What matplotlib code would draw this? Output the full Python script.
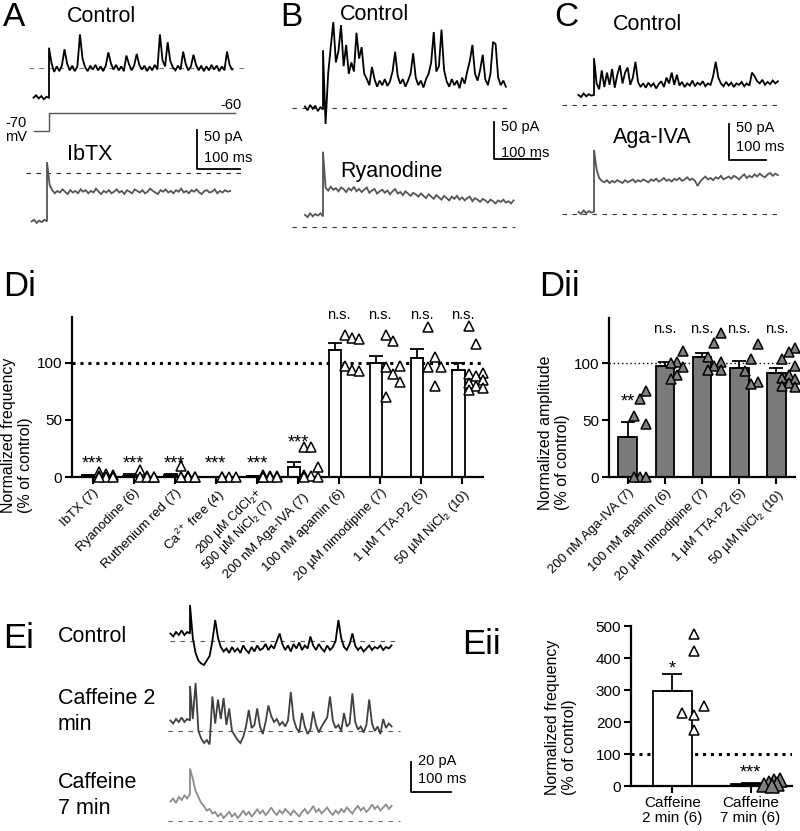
import numpy as np
import matplotlib
matplotlib.use("Agg")
import matplotlib.pyplot as plt
import matplotlib.transforms as mtransforms

plt.rcParams['font.family'] = ['Liberation Sans', 'DejaVu Sans']
plt.rcParams['mathtext.fontset'] = 'custom'
plt.rcParams['mathtext.rm'] = 'Liberation Sans'
plt.rcParams['mathtext.it'] = 'Liberation Sans:italic'
plt.rcParams['mathtext.default'] = 'regular'

W, H = 800, 831

# ---------------- data: summary panels ----------------
di_labels = ['IbTX (7)', 'Ryanodine (6)', 'Ruthenium red (7)', 'Ca$^{2+}$ free (4)',
             '200 µM CdCl$_2$+\n500 µM NiCl$_2$ (7)', '200 nM Aga-IVA (7)',
             '100 nM apamin (6)', '20 µM nimodipine (7)', '1 µM TTA-P2 (5)',
             '50 µM NiCl$_2$ (10)']
di_mean = [1.4, 1.2, 1.6, 0.1, 0.5, 8.8, 111, 99.5, 104, 94]
di_sem = [0.6, 1.0, 1.4, 0.0, 0.3, 4.6, 6, 6.5, 8, 6]
di_points = [
    [4, 3, 2, 1, 0, 0, 0],
    [6, 1, 0, 0, 0, 0],
    [10, 1, 0, 0, 0, 0, 0],
    [0, 0, 0, 0],
    [2, 1, 0.5, 0, 0, 0, 0],
    [26, 26, 9, 2, 1, 0, 0],
    [124, 122, 121, 97, 94, 93],
    [124, 119, 97, 96, 90, 83, 70],
    [131, 105, 96, 96, 80],
    [132, 116, 91, 90, 88, 85, 82, 80, 78, 76],
]
di_sig = ['***', '***', '***', '***', '***', '***', 'n.s.', 'n.s.', 'n.s.', 'n.s.']

dii_labels = ['200 nM Aga-IVA (7)', '100 nM apamin (6)', '20 µM nimodipine (7)',
              '1 µM TTA-P2 (5)', '50 µM NiCl$_2$ (10)']
dii_mean = [35, 98, 105.5, 96, 92]
dii_sem = [13, 3, 4, 6.5, 4]
dii_points = [
    [76, 69, 54, 47, 0, 0, 0],
    [111, 101, 100, 97, 90, 86],
    [127, 118, 106, 101, 98, 94, 94],
    [117, 104, 93, 84, 82],
    [114, 110, 104, 98, 90, 87, 86, 83, 80, 79],
]
dii_sig = ['**', 'n.s.', 'n.s.', 'n.s.', 'n.s.']

eii_labels = ['Caffeine\n2 min (6)', 'Caffeine\n7 min (6)']
eii_mean = [298, 5]
eii_sem = [51, 3]
eii_points = [
    [475, 423, 250, 227, 222, 175],
    [20, 15, 10, 6, 2, 0],
]
eii_sig = ['*', '***']

# ---------------- data: current traces (pA, relative to dashed line) ----------------
a_ctrl_pre = [-38, -35, -39, -36, -40, -37, -38]
a_ctrl_post = [26, 6, -5, 2, -4, 3, 24, 6, -3, 3, -4, 2, 43, 12, 1, -4, 3, -2, 4, -3,
               2, -4, 3, 20, 6, -2, 4, -3, 2, -4, 16, 5, -3, 3, 18, 4, -2, 3, -4, 2,
               -3, 4, -2, 43, 10, 2, 33, 9, 1, -3, 3, -2, 21, 5, -3, 2, 17, 4, -3, 3,
               -4, 2, -3, 4, -2, 3, -4, 2, -3, 21, 4, -2]
a_ibtx_pre = [-62, -60, -64, -61, -63, -60, -62]
a_ibtx_post = [14, -15, -22, -26, -23, -25, -21, -24, -27, -22, -25, -23, -26, -21, -24,
               -22, -26, -23, -25, -20, -24, -27, -23, -25, -22, -26, -24, -21, -25, -23,
               -27, -22, -24, -26, -21, -23, -25, -22, -26, -24, -20, -23, -25, -27, -22,
               -24, -21, -25, -23, -26, -22, -24, -20, -25, -23, -26, -22, -24, -21, -25,
               -27, -23, -22, -25, -24, -21, -26, -23, -25, -22, -24, -23]
a_cmd_mv = [-70, -60]

b_ctrl_pre = [2, -3, 4, -1, 3, -4, 1, -2]
b_ctrl_post = [76, -21, 45, 80, 113, 60, 75, 109, 55, 83, 45, 60, 48, 99, 65, 80, 45, 38,
               30, 54, 38, 28, 36, 30, 38, 29, 35, 48, 74, 42, 32, 38, 28, 36, 45, 72, 40,
               30, 36, 27, 38, 45, 60, 100, 48, 55, 103, 50, 35, 28, 38, 30, 36, 26, 40,
               32, 48, 62, 83, 45, 36, 50, 70, 38, 30, 45, 87, 84, 40, 30, 36, 28]
b_ryan_pre = [16, 13, 18, 14, 17, 15, 18, 14]
b_ryan_post = [99, 52, 48, 53, 49, 51, 47, 52, 50, 46, 51, 48, 53, 47, 50, 46, 49, 52, 45,
               48, 50, 44, 47, 49, 45, 48, 43, 47, 50, 44, 46, 42, 47, 44, 41, 45, 43, 40,
               44, 41, 38, 43, 40, 37, 42, 39, 36, 41, 38, 35, 40, 37, 41, 36, 39, 35, 38,
               40, 34, 38, 36, 33, 37, 35, 32, 36, 34, 31, 35, 33, 36, 32, 34, 31, 35]

c_ctrl_pre = [14, 11, 16, 12, 15, 13, 14]
c_ctrl_post = [65, 30, 22, 48, 25, 45, 28, 50, 24, 42, 55, 30, 45, 52, 28, 38, 60, 32, 25,
               30, 24, 31, 26, 30, 23, 29, 33, 25, 38, 30, 45, 28, 42, 27, 32, 25, 30, 27,
               34, 26, 31, 28, 33, 26, 30, 28, 40, 60, 38, 30, 26, 32, 27, 31, 25, 30, 28,
               32, 26, 30, 27, 45, 40, 33, 30, 35, 28, 32, 29, 34, 30, 33]
c_aga_pre = [3, 0, 5, 1, 4, 2, 3]
c_aga_post = [89, 62, 50, 46, 44, 47, 43, 46, 44, 47, 45, 43, 47, 44, 46, 48, 44, 47, 45,
              48, 46, 44, 48, 46, 49, 45, 47, 50, 46, 48, 45, 49, 47, 50, 46, 48, 51, 47,
              49, 46, 39, 45, 49, 52, 48, 50, 47, 51, 49, 53, 48, 50, 52, 49, 53, 51, 48,
              52, 55, 50, 53, 51, 55, 52, 56, 53, 51, 55, 57, 53, 56, 54]

e_ctrl_pre = [5, 3, 6, 4, 7, 4, 6, 5]
e_ctrl_post = [24, 2, -8, -13, -15, -16, -13, -10, 0, 14, 2, -4, -7, -5, -8, -4, -7, -5,
               -8, -3, -6, -8, -4, -7, -3, -6, -5, -2, -6, -3, -5, 0, 5, -2, -6, -3, -7,
               -2, -5, -1, -6, -3, -5, 3, -3, -6, -2, -5, -7, -3, -6, -4, 0, 14, 2, -4,
               -6, -2, 5, -3, -6, -4, -7, -5, -3, -6, -4, -5, -3, -6, -4, -5, -3]
e_caf2_pre = [7, 5, 8, 6, 9, 6, 8, 7]
e_caf2_post = [30, 8, 32, 0, -5, -8, -6, -9, 23, 5, 21, 8, 22, 4, 15, 0, -3, -6, -8, -4,
               3, 14, 2, 4, 15, 3, -2, 6, 17, 10, 6, 8, 4, 6, 3, 7, 26, 8, 2, -1, 12, 3,
               -2, 1, 13, 4, -1, 3, 6, 9, 23, 7, 2, 4, 0, 12, 3, 5, 25, 6, 1, 3, -1, 4,
               21, 5, 0, 3, -2, 8, 2, 5, 3]
e_caf7_pre = [13, 15, 12, 16, 14, 17, 15, 18]
e_caf7_post = [35, 28, 20, 16, 12, 10, 7, 8, 5, 6, 3, 5, 2, 4, 6, 3, 5, 2, 4, 7, 4, 6, 3,
               5, 8, 5, 7, 4, 6, 9, 6, 4, 7, 5, 8, 6, 4, 7, 5, 3, 6, 8, 5, 7, 10, 6, 8, 5,
               7, 9, 6, 4, 7, 5, 8, 6, 9, 7, 5, 8, 10, 7, 9, 6, 8, 11, 8, 10, 7, 9, 11, 8, 10]

# ---------------- figure ----------------
fig = plt.figure(figsize=(W / 100, H / 100), dpi=100)
ax0 = fig.add_axes([0, 0, 1, 1])
ax0.set_xlim(0, W)
ax0.set_ylim(H, 0)
ax0.axis('off')


def px_rect(l, t, r, b):
    return [l / W, 1 - b / H, (r - l) / W, (b - t) / H]


def trace(pre, post, x_step, y_ref, dt, px_ms, px_pa, color, lw=1.3):
    pre = np.asarray(pre, float)
    post = np.asarray(post, float)
    t_pre = (np.arange(len(pre)) - (len(pre) - 1)) * dt
    t_post = np.arange(len(post)) * dt
    t = np.concatenate([t_pre, t_post])
    v = np.concatenate([pre, post])
    ax0.plot(x_step + t * px_ms, y_ref - v * px_pa, color=color, lw=lw,
             solid_joinstyle='miter')


def dashed(x1, x2, y, color='#555555'):
    ax0.plot([x1, x2], [y, y], color=color, lw=0.8, ls=(0, (4, 5)))


def scalebar(x, y, pa, ms, px_pa, px_ms, lab_pa, lab_ms, ty1, ty2):
    ax0.plot([x, x, x + ms * px_ms], [y - pa * px_pa, y, y], color='k', lw=1.3)
    ax0.text(x + 7, ty1, lab_pa, fontsize=10.5, va='center', ha='left')
    ax0.text(x + 7, ty2, lab_ms, fontsize=10.5, va='center', ha='left')


def lab(x, y, s, size=15.5):
    ax0.text(x, y, s, fontsize=size, ha='left', va='center')


# panel letters
for s, x, y, fs in [('A', 3, 17, 24), ('B', 280, 17, 24), ('C', 554, 17, 24),
                    ('Di', 3, 287, 25), ('Dii', 539, 287, 25),
                    ('Ei', 3, 639, 25), ('Eii', 462, 644, 25)]:
    ax0.text(x, y, s, fontsize=fs, ha='left', va='center')

# ---- A ----
dashed(29, 247, 68, '#777777')
trace(a_ctrl_pre, a_ctrl_post, 49, 68, 6, 0.43, 0.78, 'k')
dashed(26, 245, 173, '#222222')
trace(a_ibtx_pre, a_ibtx_post, 47, 173, 6, 0.43, 0.78, '#555555')
px_mv = 1.8
y_cmd = [131, 131 - (a_cmd_mv[1] - a_cmd_mv[0]) * px_mv]
ax0.plot([34, 49, 49, 235], [y_cmd[0], y_cmd[0], y_cmd[1], y_cmd[1]], color='#555555', lw=1)
ax0.text(5, 123, '%d' % a_cmd_mv[0], fontsize=10.5, va='center')
ax0.text(5, 137, 'mV', fontsize=10.5, va='center')
ax0.text(220, 105, '%d' % a_cmd_mv[1], fontsize=10.5, va='center')
lab(67, 17, 'Control')
lab(67, 154, 'IbTX')
scalebar(197, 169, 50, 100, 0.78, 0.43, '50 pA', '100 ms', 137, 158)

# ---- B ----
dashed(292, 510, 108, '#333333')
trace(b_ctrl_pre, b_ctrl_post, 323, 108, 5.6, 0.46, 0.76, 'k')
dashed(292, 515, 227, '#333333')
trace(b_ryan_pre, b_ryan_post, 323, 227, 5.6, 0.46, 0.76, '#555555')
lab(340, 14, 'Control')
lab(340, 172, 'Ryanodine')
scalebar(494, 159, 50, 100, 0.74, 0.46, '50 pA', '100 ms', 127, 153)

# ---- C ----
dashed(562, 780, 105, '#333333')
trace(c_ctrl_pre, c_ctrl_post, 594, 105, 7, 0.37, 0.72, 'k')
dashed(562, 780, 214, '#333333')
trace(c_aga_pre, c_aga_post, 594, 214, 7, 0.37, 0.72, '#555555')
lab(613, 24, 'Control')
lab(613, 138, 'Aga-IVA')
scalebar(729, 160, 50, 100, 0.72, 0.37, '50 pA', '100 ms', 128, 147)

# ---- Ei ----
dashed(170, 400, 641, '#555555')
trace(e_ctrl_pre, e_ctrl_post, 190, 641, 7, 0.4, 1.5, 'k')
dashed(168, 400, 731, '#555555')
trace(e_caf2_pre, e_caf2_post, 190, 731, 7, 0.4, 1.5, '#404040')
dashed(168, 400, 821, '#777777')
trace(e_caf7_pre, e_caf7_post, 190, 821, 7, 0.4, 1.5, '#8c8c8c')
lab(58, 636, 'Control')
lab(58, 698, 'Caffeine 2')
lab(58, 724, 'min')
lab(58, 782, 'Caffeine')
lab(58, 808, '7 min')
scalebar(411, 792, 20, 100, 1.5, 0.4, '20 pA', '100 ms', 761, 779)

# y labels (rotated, lines start at the bottom)
for x, y, s in [(17, 513, 'Normalized frequency\n(% of control)'),
                (554, 510, 'Normalized amplitude\n(% of control)'),
                (561, 795, 'Normalized frequency\n(% of control)')]:
    ax0.text(x, y, s, rotation=90, fontsize=11.5, ha='center', va='bottom',
             multialignment='left', linespacing=1.15)


# ---------------- bar panels ----------------
def style_axes(ax):
    for sp in ['top', 'right']:
        ax.spines[sp].set_visible(False)
    for sp in ['left', 'bottom']:
        ax.spines[sp].set_linewidth(1.6)
    ax.tick_params(direction='out', length=5, width=1.5, labelsize=11, pad=2)
    ax.set_facecolor('none')


def bar_panel(ax, means, sems, points, face, pt_face, width, off, cols, capsize, ms):
    n = len(means)
    x = np.arange(n)
    ax.bar(x + off, means, width=width, color=face, edgecolor='k', lw=1.3, zorder=2)
    for i in range(n):
        ax.errorbar(x[i] + off, means[i], yerr=[[0], [sems[i]]], fmt='none', ecolor='k',
                    elinewidth=1.3, capsize=capsize, capthick=1.3, zorder=2)
        pts = sorted(points[i], reverse=True)
        px = [x[i] + cols[k % len(cols)] for k in range(len(pts))]
        ax.plot(px, pts, ls='none', marker='^', ms=ms, mfc=pt_face, mec='k', mew=1.1,
                zorder=3, clip_on=False)


def sig_text(ax, x, y, s):
    size = 13 if '*' in s else 10.5
    dy = -0.35 if '*' in s else 0
    ax.annotate(s, (x, y), xytext=(0, dy * size), textcoords='offset points',
                ha='center', va='center', fontsize=size, annotation_clip=False)


# Di
axd = fig.add_axes(px_rect(72, 317, 483, 477), zorder=2)
style_axes(axd)
axd.axhline(100, color='k', lw=2.2, ls=(0, (1, 1.6)), zorder=1)
bar_panel(axd, di_mean, di_sem, di_points, 'white', 'white', 0.3, -0.1,
          [0.15, 0.32, 0.49], 5, 7.5)
axd.set_xlim(-0.5, 9.5)
axd.set_ylim(0, 140)
axd.set_yticks([0, 50, 100])
axd.set_xticks(np.arange(len(di_labels)))
axd.set_xticklabels(di_labels, rotation=45, ha='right', rotation_mode='anchor',
                    fontsize=9.5, multialignment='right')
# nudge the crowded labels apart (points, perpendicular to the text)
nudge = {4: (-1.5, 1.5), 5: (3.5, -3.5)}
for k, t in enumerate(axd.get_xticklabels()):
    if '\n' in t.get_text():
        t.set_fontsize(9)
        t.set_linespacing(0.95)
    if k in nudge:
        dx, dy = nudge[k]
        t.set_transform(t.get_transform() +
                        mtransforms.ScaledTranslation(dx / 72, dy / 72, fig.dpi_scale_trans))
for i, s in enumerate(di_sig):
    if s == 'n.s.':
        yy = 142
    elif i == 5:
        yy = 35
    else:
        yy = 17
    sig_text(axd, i, yy, s)

# Dii
axdd = fig.add_axes(px_rect(609, 318, 795, 477), zorder=2)
style_axes(axdd)
axdd.axhline(100, color='k', lw=1.0, ls=(0, (1, 2)), zorder=1)
bar_panel(axdd, dii_mean, dii_sem, dii_points, '#7a7a7a', '#808080', 0.5, 0.0,
          [0.5, 0.33, 0.16], 5, 7.5)
axdd.set_xlim(-0.5, 4.5)
axdd.set_ylim(0, 140)
axdd.set_yticks([0, 50, 100])
axdd.set_xticks(np.arange(len(dii_labels)))
axdd.set_xticklabels(dii_labels, rotation=45, ha='right', rotation_mode='anchor',
                     fontsize=9.5)
for i, s in enumerate(dii_sig):
    yy = 72 if s == '**' else 130
    sig_text(axdd, i, yy, s)

# Eii
axe = fig.add_axes(px_rect(631, 626, 792, 786), zorder=2)
style_axes(axe)
axe.axhline(100, color='k', lw=2.2, ls=(0, (1, 1.6)), zorder=1)
n_e = len(eii_mean)
axe.bar(np.arange(n_e), eii_mean, width=0.49, color=['white', 'k'], edgecolor='k',
        lw=1.3, zorder=2)
for i in range(n_e):
    axe.errorbar(i, eii_mean[i], yerr=[[0], [eii_sem[i]]], fmt='none', ecolor='k',
                 elinewidth=1.3, capsize=7.5, capthick=1.3, zorder=2)
cols_e = [[0.27, 0.27, 0.41, 0.12, 0.27, 0.27], [0.38, 0.3, 0.23, 0.34, 0.17, 0.27]]
mfc_e = ['white', '#808080']
ms_e = [7.5, 10]
for i in range(n_e):
    pts = sorted(eii_points[i], reverse=True)
    axe.plot([i + c for c in cols_e[i]], pts, ls='none', marker='^', ms=ms_e[i],
             mfc=mfc_e[i], mec='k', mew=1.1, zorder=3, clip_on=False)
axe.set_xlim(-0.53, 1.53)
axe.set_ylim(0, 500)
axe.set_yticks([0, 100, 200, 300, 400, 500])
axe.set_xticks(np.arange(n_e))
axe.set_xticklabels(eii_labels, fontsize=11, linespacing=1.1)
sig_text(axe, 0, 385, eii_sig[0])
sig_text(axe, 1, 59, eii_sig[1])

fig.savefig('out.png', dpi=100)
